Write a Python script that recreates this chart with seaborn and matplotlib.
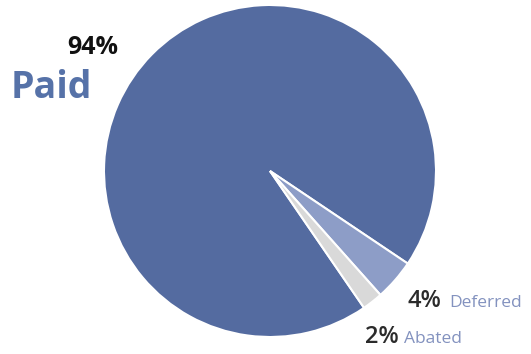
import matplotlib
matplotlib.use('Agg')
import matplotlib.pyplot as plt
import seaborn as sns

# data
categories = ['Paid', 'Deferred', 'Abated']
shares = [94, 4, 2]
colors = ['#546ba0', '#8d9dc7', '#d9d9d9']

sns.set_theme(style='white')
plt.rcParams['font.family'] = ['Open Sans', 'DejaVu Sans']

W, H = 531, 354
fig = plt.figure(figsize=(W / 100, H / 100), dpi=100)
ax = fig.add_axes([0, 0, 1, 1])

# pie centred at pixel (270, 171), radius ~166 px
ax.pie(shares, colors=colors, center=(270, H - 171), radius=166,
       startangle=-55.5, counterclock=False,
       wedgeprops={'edgecolor': 'white', 'linewidth': 1.5})
ax.set_xlim(0, W)
ax.set_ylim(0, H)
ax.set_aspect('equal')
ax.axis('off')


def px(x, y):
    return x, H - y


# labels
ax.text(*px(67, 54), f"{shares[0]}%", fontsize=18, fontweight='bold',
        color='#111111', ha='left', va='baseline')
ax.text(*px(11, 98), categories[0], fontsize=27, fontweight='bold',
        color='#5672a8', ha='left', va='baseline')

ax.text(*px(407, 307), f"{shares[1]}%", fontsize=17, fontweight='semibold',
        color='#2b2b2b', ha='left', va='baseline')
ax.text(*px(449, 307), categories[1], fontsize=12.5, color='#8392bf',
        ha='left', va='baseline')

ax.text(*px(365, 343), f"{shares[2]}%", fontsize=17, fontweight='semibold',
        color='#2b2b2b', ha='left', va='baseline')
ax.text(*px(404, 343), categories[2], fontsize=12.5, color='#8392bf',
        ha='left', va='baseline')

fig.savefig('out.png', dpi=100, facecolor='white')
plt.close(fig)
